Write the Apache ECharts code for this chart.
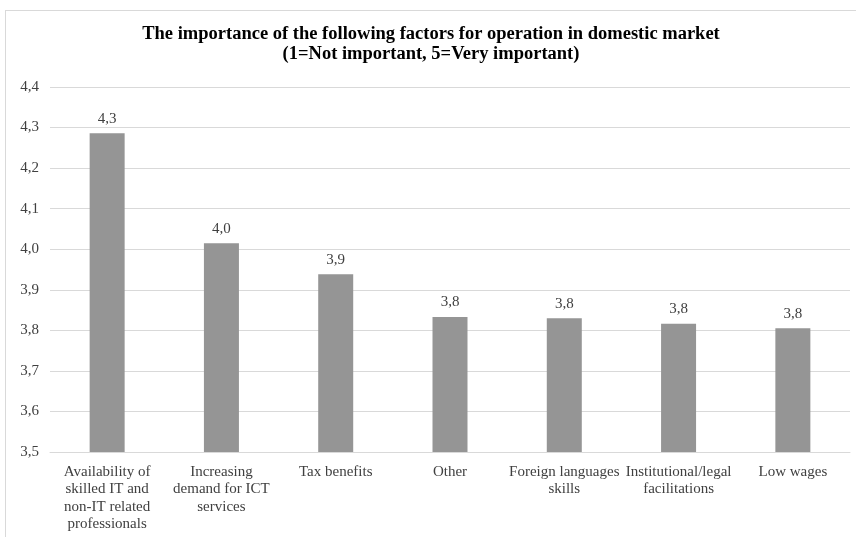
<!DOCTYPE html>
<html>
<head>
<meta charset="utf-8">
<script src="https://cdn.jsdelivr.net/npm/echarts@6/dist/echarts.min.js"></script>
<style>
  html, body { margin: 0; padding: 0; background: #fff; overflow: hidden; }
  #chart { position: absolute; left: 5px; top: 10px; width: 851px; height: 527px;
           border-left: 1px solid #d9d9d9; border-top: 1px solid #d9d9d9; box-sizing: border-box; }
</style>
</head>
<body>
<div id="chart"></div>
<script>
// categories (line breaks as in the original labels)
var categories = [
  'Availability of\nskilled IT and\nnon-IT related\nprofessionals',
  'Increasing\ndemand for ICT\nservices',
  'Tax benefits',
  'Other',
  'Foreign languages\nskills',
  'Institutional/legal\nfacilitations',
  'Low wages'
];
// mean importance scores
var scores = [4.286, 4.015, 3.938, 3.833, 3.830, 3.816, 3.805];

var fontFamily = '"Liberation Serif", "Times New Roman", serif';

var myChart = echarts.init(document.getElementById('chart'));
var option = {
  animation: false,
  title: {
    text: 'The importance of the following factors for operation in domestic market\n(1=Not important, 5=Very important)',
    left: 'center',
    top: 8,
    textStyle: {
      fontFamily: fontFamily,
      fontSize: 18.5,
      fontWeight: 'bold',
      color: '#000',
      lineHeight: 20
    }
  },
  grid: {
    left: 44,
    right: 6,
    top: 76,
    bottom: 85
  },
  xAxis: {
    type: 'category',
    data: categories,
    axisLine: { lineStyle: { color: '#d9d9d9' } },
    axisTick: { show: false },
    axisLabel: {
      interval: 0,
      margin: 11,
      color: '#404040',
      fontFamily: fontFamily,
      fontSize: 15,
      lineHeight: 17.5
    }
  },
  yAxis: {
    type: 'value',
    min: 3.5,
    max: 4.4,
    interval: 0.1,
    axisLine: { show: false },
    axisTick: { show: false },
    splitLine: { lineStyle: { color: '#d9d9d9' } },
    axisLabel: {
      margin: 11,
      color: '#404040',
      fontFamily: fontFamily,
      fontSize: 15,
      formatter: function (v) { return v.toFixed(1).replace('.', ','); }
    }
  },
  series: [{
    type: 'bar',
    data: scores,
    barWidth: 35,
    itemStyle: { color: '#959595' },
    label: {
      show: true,
      position: 'top',
      distance: 7,
      color: '#404040',
      fontFamily: fontFamily,
      fontSize: 15,
      formatter: function (p) { return p.value.toFixed(1).replace('.', ','); }
    }
  }]
};
myChart.setOption(option);
</script>
</body>
</html>
